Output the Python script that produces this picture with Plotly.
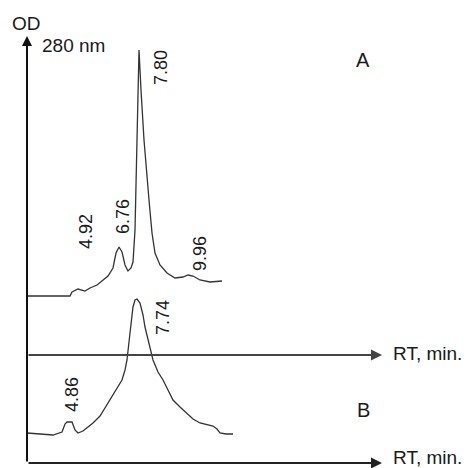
import plotly.graph_objects as go

# ---- data (RT in min, signal in arbitrary units above baseline) ----
rt_a = [2.20, 4.35, 4.45, 4.75, 5.10, 5.35, 5.70, 6.00, 6.25, 6.50, 6.65, 6.80, 6.95, 7.10,
        7.25, 7.40, 7.50, 7.60, 7.675, 7.75, 7.80, 7.90, 8.05, 8.30, 8.45, 8.60, 8.85, 9.20,
        9.60, 10.00, 10.25, 10.50, 10.85, 11.35, 11.95]
od_a = [0, 0, 4, 7, 5, 8, 11, 16, 20, 28, 43, 49, 44, 31,
        25, 28, 34, 66, 136, 206, 246, 206, 156, 96, 63, 43, 31, 23,
        18, 19, 21, 20, 16, 14, 15]

rt_b = [2.20, 3.50, 3.95, 4.10, 4.20, 4.45, 4.60, 4.75, 5.00, 5.50, 5.85, 6.10, 6.25, 6.50,
        6.70, 6.95, 7.10, 7.20, 7.35, 7.50, 7.60, 7.70, 7.85, 8.00, 8.10, 8.35, 8.50, 8.75,
        9.00, 9.25, 9.50, 9.85, 10.20, 10.50, 10.85, 11.20, 11.50, 11.70, 11.85, 12.15, 12.50]
od_b = [0, -2, 1, 9, 11, 11, 3, 0, 2, 10, 17, 25, 31, 39,
        45, 53, 63, 73, 100, 126, 133, 134, 130, 118, 106, 86, 73, 61,
        53, 43, 33, 26, 20, 14, 10, 8, 7, 4, 0, -1, -1]

peak_labels_a = ["4.92", "6.76", "7.80", "9.96"]
peak_lab_x_a = [5.15, 7.00, 8.90, 10.85]
peak_lab_y_a = [64, 79, 228, 42]
peak_labels_b = ["4.86", "7.74"]
peak_lab_x_b = [4.45, 9.00]
peak_lab_y_b = [38, 115]

base_a = 172
base_b = 35
axis_mid_y = 113
axis_bot_y = 5
axis_x0 = 2.20
arrow_x_end = 19.95
od_top = 432

FONT = "Liberation Sans, Arial, sans-serif"
TXT = "#1a1a1a"

fig = go.Figure()
fig.add_trace(go.Scatter(x=rt_a, y=[v + base_a for v in od_a], mode="lines",
                         line=dict(color="#333333", width=1.3), hoverinfo="skip"))
fig.add_trace(go.Scatter(x=rt_b, y=[v + base_b for v in od_b], mode="lines",
                         line=dict(color="#333333", width=1.3), hoverinfo="skip"))

ann = []
# vertical OD axis
ann.append(dict(x=axis_x0, y=od_top, ax=axis_x0, ay=axis_bot_y, xref="x", yref="y",
                axref="x", ayref="y", showarrow=True, arrowhead=2, arrowsize=1,
                arrowwidth=2, arrowcolor="#111111", text=""))
# horizontal axes
for yy, col, ty in [(axis_mid_y, "#444444", axis_mid_y + 2), (axis_bot_y, "#222222", axis_bot_y + 6)]:
    ann.append(dict(x=arrow_x_end, y=yy, ax=axis_x0, ay=yy, xref="x", yref="y",
                    axref="x", ayref="y", showarrow=True, arrowhead=2, arrowsize=1,
                    arrowwidth=2.2, arrowcolor=col, text=""))
    ann.append(dict(x=20.40, y=ty, xref="x", yref="y", text="RT, min.", showarrow=False,
                    xanchor="left", yanchor="middle", font=dict(family=FONT, size=19, color=TXT)))

ann.append(dict(x=2.15, y=445, xref="x", yref="y", text="OD", showarrow=False,
                font=dict(family=FONT, size=19, color=TXT)))
ann.append(dict(x=4.50, y=423, xref="x", yref="y", text="280 nm", showarrow=False,
                font=dict(family=FONT, size=19, color=TXT)))
ann.append(dict(x=19.0, y=408, xref="x", yref="y", text="A", showarrow=False,
                font=dict(family=FONT, size=20, color=TXT)))
ann.append(dict(x=19.0, y=58, xref="x", yref="y", text="B", showarrow=False,
                font=dict(family=FONT, size=20, color=TXT)))

for t, x, y in zip(peak_labels_a, peak_lab_x_a, peak_lab_y_a):
    ann.append(dict(x=x, y=y + base_a, xref="x", yref="y", text=t, showarrow=False,
                    textangle=-90, font=dict(family=FONT, size=18, color=TXT)))
for t, x, y in zip(peak_labels_b, peak_lab_x_b, peak_lab_y_b):
    ann.append(dict(x=x, y=y + base_b, xref="x", yref="y", text=t, showarrow=False,
                    textangle=-90, font=dict(family=FONT, size=18, color=TXT)))

fig.update_layout(
    width=467, height=468, margin=dict(l=0, r=0, t=0, b=0),
    paper_bgcolor="white", plot_bgcolor="white", showlegend=False,
    xaxis=dict(range=[0.85, 24.20], visible=False, fixedrange=True),
    yaxis=dict(range=[0, 468], visible=False, fixedrange=True),
    annotations=ann,
)
fig.write_html("out.html")
